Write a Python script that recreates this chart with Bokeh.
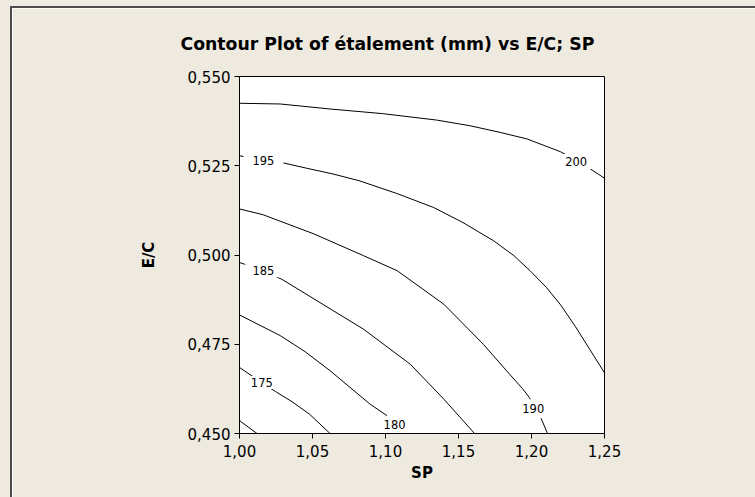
from bokeh.plotting import figure
from bokeh.models import FixedTicker, Label, Range1d
from bokeh.embed import file_html
from bokeh.resources import INLINE

# ---- data ----
title_text = "Contour Plot of étalement (mm) vs E/C; SP"
x_label = "SP"
y_label = "E/C"

x_ticks = [1.0, 1.05, 1.1, 1.15, 1.2, 1.25]
x_tick_labels = ["1,00", "1,05", "1,10", "1,15", "1,20", "1,25"]
y_ticks = [0.45, 0.475, 0.5, 0.525, 0.55]
y_tick_labels = ["0,450", "0,475", "0,500", "0,525", "0,550"]

levels = [170, 175, 180, 185, 190, 195, 200]

c170_x = [1.000, 1.012]
c170_y = [0.4536, 0.4500]

c175_x = [1.000, 1.015, 1.0245, 1.036, 1.048, 1.062]
c175_y = [0.4685, 0.4643, 0.4618, 0.4589, 0.4554, 0.4500]

c180_x = [1.000, 1.028, 1.045, 1.062, 1.0895, 1.101]
c180_y = [0.4832, 0.4774, 0.4729, 0.4676, 0.4582, 0.4550]

c185_x = [1.000, 1.016, 1.029, 1.053, 1.085, 1.117, 1.140, 1.161]
c185_y = [0.4979, 0.4956, 0.4932, 0.4872, 0.4792, 0.4694, 0.4596, 0.4500]

c190_x = [1.000, 1.016, 1.051, 1.085, 1.108, 1.140, 1.167, 1.185, 1.194, 1.1985, 1.2063, 1.211]
c190_y = [0.5129, 0.5113, 0.5059, 0.4998, 0.4956, 0.4862, 0.4750, 0.4666, 0.4625, 0.4601, 0.4545, 0.4500]

c195_x = [1.000, 1.016, 1.029, 1.046, 1.064, 1.082, 1.108, 1.133, 1.153, 1.174, 1.188, 1.199,
          1.210, 1.220, 1.230, 1.240, 1.250]
c195_y = [0.5278, 0.5266, 0.5259, 0.5243, 0.5227, 0.5208, 0.5172, 0.5133, 0.5091, 0.5040, 0.4998, 0.4956,
          0.4910, 0.4860, 0.4800, 0.4735, 0.4670]

c200_x = [1.000, 1.028, 1.062, 1.098, 1.135, 1.158, 1.179, 1.197, 1.220, 1.240, 1.250]
c200_y = [0.5425, 0.5423, 0.5409, 0.5396, 0.5378, 0.5362, 0.5343, 0.5325, 0.5289, 0.5242, 0.5215]

contour_x = [c170_x, c175_x, c180_x, c185_x, c190_x, c195_x, c200_x]
contour_y = [c170_y, c175_y, c180_y, c185_y, c190_y, c195_y, c200_y]

label_text = ["200", "195", "190", "185", "180", "175"]
label_x = [1.2306, 1.0164, 1.2012, 1.0164, 1.1062, 1.0153]
label_y = [0.5262, 0.5266, 0.4569, 0.4956, 0.4524, 0.4643]

# ---- styling ----
BG = "#EEEAE0"
FONT = "DejaVu Sans"

p = figure(
    frame_width=365, frame_height=357,
    min_border_left=227, min_border_top=68, min_border_right=151, min_border_bottom=64,
    x_range=Range1d(1.0, 1.25), y_range=Range1d(0.45, 0.55),
    output_backend="svg", toolbar_location=None,
    background_fill_color="white", border_fill_color=BG,
    styles={"margin-left": "10px", "margin-top": "6px",
            "border-top": "2px solid #4d4d4d", "border-left": "2px solid #4d4d4d",
            "box-shadow": "0 0 0 12px " + BG},
)

p.title.text = title_text
p.title.align = "left"
p.title.offset = -59
p.title.standoff = 46
p.title.text_font = FONT
p.title.text_font_size = "17.3px"
p.title.text_font_style = "bold"
p.title.text_color = "black"

p.outline_line_color = "black"
p.outline_line_width = 1
p.grid.visible = False

p.xaxis.ticker = FixedTicker(ticks=x_ticks)
p.xaxis.major_label_overrides = {t: l for t, l in zip(x_ticks, x_tick_labels)}
p.yaxis.ticker = FixedTicker(ticks=y_ticks)
p.yaxis.major_label_overrides = {t: l for t, l in zip(y_ticks, y_tick_labels)}

for ax in (p.xaxis, p.yaxis):
    ax.axis_line_color = "black"
    ax.major_tick_line_color = "black"
    ax.major_tick_out = 5
    ax.major_tick_in = 0
    ax.minor_tick_line_color = None
    ax.major_label_text_font = FONT
    ax.major_label_text_font_size = "15px"
    ax.major_label_text_color = "black"
    ax.axis_label_text_font = FONT
    ax.axis_label_text_font_size = "15px"
    ax.axis_label_text_font_style = "bold"
    ax.axis_label_text_color = "black"

p.xaxis.major_label_standoff = 6
p.yaxis.major_label_standoff = 4
p.xaxis.axis_label = x_label
p.xaxis.axis_label_standoff = 4
p.yaxis.axis_label = y_label
p.yaxis.axis_label_standoff = 27

for xs, ys in zip(contour_x, contour_y):
    p.line(xs, ys, line_color="black", line_width=1)

pads = {"200": (4, 3), "195": (9, 2), "190": (2, 5), "185": (8, 2), "180": (1, 1), "175": (3, 2)}
for t, lx, ly in zip(label_text, label_x, label_y):
    p.add_layout(Label(x=lx, y=ly, text=t, text_align="center", text_baseline="middle",
                       text_font=FONT, text_font_size="11.5px", text_color="black",
                       background_fill_color="white", padding=pads[t]))

open("out.html", "w").write(file_html(p, INLINE))
